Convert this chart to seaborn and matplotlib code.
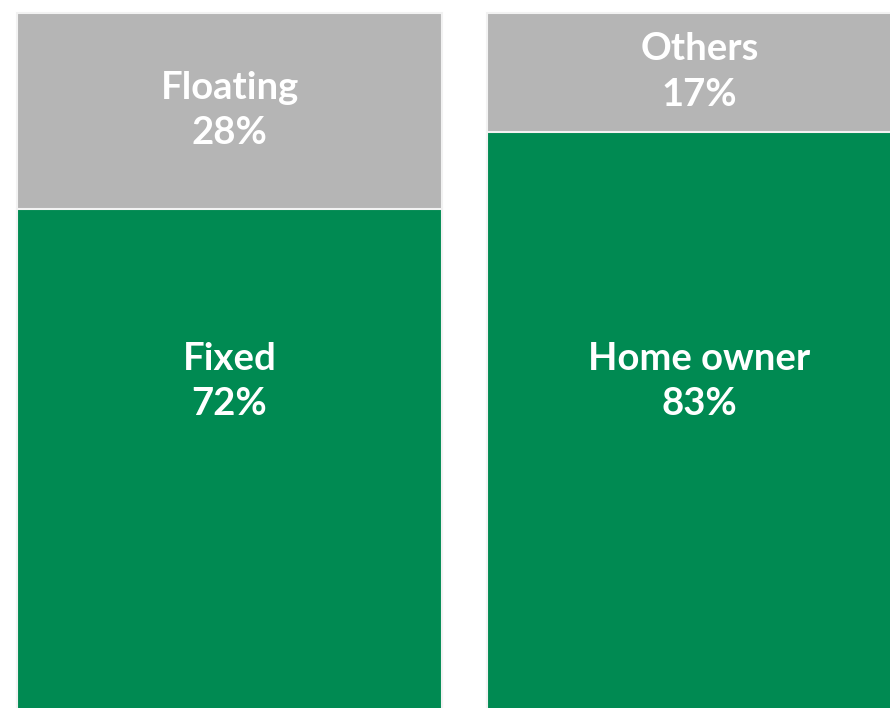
import matplotlib
matplotlib.use("Agg")
import matplotlib.pyplot as plt
import seaborn as sns
import pandas as pd

# Two 100% stacked columns: rate type and borrower type
groups = ["Rate type", "Borrower type"]
main_labels = ["Fixed", "Home owner"]
main_values = [72, 83]
rest_labels = ["Floating", "Others"]
rest_values = [28, 17]

GREEN = "#008a52"
GREY = "#b5b5b5"

sns.set_theme(style="white")
plt.rcParams["font.family"] = ["Lato", "DejaVu Sans"]

fig = plt.figure(figsize=(8.9, 7.08), dpi=100)
ax = fig.add_axes([0, 0, 1, 1])

totals = [m + r for m, r in zip(main_values, rest_values)]
df_total = pd.DataFrame({"group": groups, "value": totals})
df_main = pd.DataFrame({"group": groups, "value": main_values})

bar_w = 0.904
sns.barplot(data=df_total, x="group", y="value", color=GREY, width=bar_w,
            edgecolor="#f2f2f2", linewidth=1.5, saturation=1, ax=ax)
sns.barplot(data=df_main, x="group", y="value", color=GREEN, width=bar_w,
            edgecolor="#f2f2f2", linewidth=1.5, saturation=1, ax=ax)

ax.set_xlim(-0.4883, 1.4053)
ax.set_ylim(0.64, 101.79)
ax.axis("off")

txt_kw = dict(ha="center", va="center", color="white", fontsize=27.5,
              fontweight="bold", linespacing=1.42)
for i in range(len(groups)):
    top_mid = main_values[i] + rest_values[i] / 2
    ax.text(i, top_mid, f"{rest_labels[i]}\n{rest_values[i]}%", **txt_kw)
    ax.text(i, 47.3, f"{main_labels[i]}\n{main_values[i]}%", **txt_kw)

fig.savefig("out.png", dpi=100, facecolor="white")
